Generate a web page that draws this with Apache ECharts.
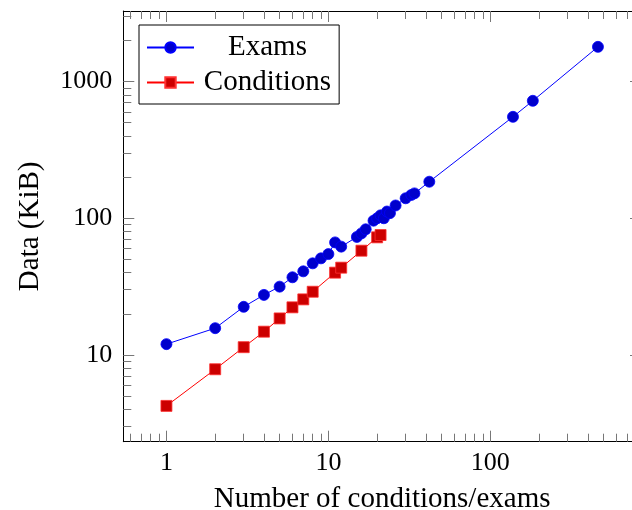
<!DOCTYPE html>
<html>
<head>
<meta charset="utf-8">
<script src="https://cdn.jsdelivr.net/npm/echarts@6/dist/echarts.min.js"></script>
<style>
  html, body { margin: 0; padding: 0; background: #fff; }
  #chart { width: 632px; height: 510px; }
</style>
</head>
<body>
<div id="chart"></div>
<script>
// Exams: 数据量随考试数量变化
var examsX = [1, 2, 3, 4, 5, 6, 7, 8, 9, 10, 11, 12, 15, 16, 17, 19, 20, 21, 22, 23, 24, 26, 30, 32.5, 34, 42, 138, 183, 462];
var examsY = [12, 15.7, 22.5, 27.5, 31.6, 37, 40.9, 46.8, 50.9, 54.7, 66.6, 62, 73, 77.5, 83, 96, 100, 105, 100, 112, 109, 124, 140, 148, 152, 185, 552, 723, 1794];

// Conditions
var condX = [1, 2, 3, 4, 5, 6, 7, 8, 11, 12, 16, 20, 21];
var condY = [4.24, 7.86, 11.4, 14.8, 18.5, 22.3, 25.5, 29, 40, 43.5, 57.9, 72.5, 75.4];

// tick values
var xMajor = [1, 10, 100];
var xMinor = [0.6, 0.7, 0.8, 0.9, 2, 3, 4, 5, 6, 7, 8, 9, 20, 30, 40, 50, 60, 70, 80, 90, 200, 300, 400, 500, 600, 700, 800];
var yMajor = [10, 100, 1000];
var yMinor = [3, 4, 5, 6, 7, 8, 9, 20, 30, 40, 50, 60, 70, 80, 90, 200, 300, 400, 500, 600, 700, 800, 900, 2000, 3000];

var X_MIN = 0.5415, X_MAX = 852;
var Y_MIN = 2.32, Y_MAX = 3281;

var font = 'Liberation Serif';
var tickColor = '#777';

function pairs(xs, ys) {
    var out = [];
    for (var i = 0; i < xs.length; i++) out.push([xs[i], ys[i]]);
    return out;
}

// 生成一根轴（主刻度或次刻度）
function makeAxis(kind, pos, ticks, len, showLine, labels) {
    var ax = {
        type: 'log',
        logBase: 10,
        position: pos,
        min: kind === 'x' ? X_MIN : Y_MIN,
        max: kind === 'x' ? X_MAX : Y_MAX,
        splitLine: { show: false },
        axisLine: { show: showLine, onZero: false, lineStyle: { color: '#000', width: 1 } },
        axisTick: { show: true, inside: true, length: len, customValues: ticks, lineStyle: { color: tickColor, width: 1 } },
        axisLabel: { show: false }
    };
    if (labels) {
        ax.axisLabel = {
            show: true,
            customValues: labels,
            margin: kind === 'x' ? 8 : 11,
            color: '#000',
            fontFamily: font,
            fontSize: 26,
            formatter: function (v) { return String(Math.round(v)); }
        };
    }
    return ax;
}

var chart = echarts.init(document.getElementById('chart'));

var xMain = makeAxis('x', 'bottom', xMajor, 11, true, xMajor);
xMain.name = 'Number of conditions/exams';
xMain.nameLocation = 'middle';
xMain.nameGap = 43;
xMain.nameTextStyle = { color: '#000', fontFamily: font, fontSize: 29 };

var yMain = makeAxis('y', 'left', yMajor, 11, true, yMajor);
yMain.name = 'Data (KiB)';
yMain.nameLocation = 'middle';
yMain.nameGap = 78;
yMain.nameTextStyle = { color: '#000', fontFamily: font, fontSize: 29 };

var option = {
    animation: false,
    grid: { left: 123.3, top: 11, right: -9, bottom: 68.3, containLabel: false, outerBoundsMode: 'none' },
    legend: {
        orient: 'vertical',
        left: 139,
        top: 25,
        padding: [8, 8, 7, 7],
        itemGap: 6,
        itemWidth: 47,
        itemHeight: 13,
        borderColor: '#000',
        borderWidth: 1,
        backgroundColor: '#fff',
        formatter: '{c|{name}}',
        textStyle: {
            rich: {
                c: { width: 137, align: 'center', fontFamily: font, fontSize: 29, color: '#000' }
            }
        },
        data: ['Exams', 'Conditions']
    },
    xAxis: [
        xMain,
        makeAxis('x', 'bottom', xMinor, 8, false),
        makeAxis('x', 'top', xMajor, 11, true),
        makeAxis('x', 'top', xMinor, 8, false)
    ],
    yAxis: [
        yMain,
        makeAxis('y', 'left', yMinor, 8, false),
        makeAxis('y', 'right', yMajor, 11, true),
        makeAxis('y', 'right', yMinor, 8, false)
    ],
    series: [
        {
            name: 'Exams',
            type: 'line',
            xAxisIndex: 0,
            yAxisIndex: 0,
            symbol: 'circle',
            symbolSize: 11,
            itemStyle: { color: '#0000CC', borderColor: '#0000FF', borderWidth: 0.8 },
            lineStyle: { color: '#0000FF', width: 1 },
            data: pairs(examsX, examsY)
        },
        {
            name: 'Conditions',
            type: 'line',
            xAxisIndex: 0,
            yAxisIndex: 0,
            symbol: 'rect',
            symbolSize: 11,
            itemStyle: { color: '#CC0000', borderColor: '#FF3030', borderWidth: 0.8 },
            lineStyle: { color: '#FF0000', width: 1 },
            data: pairs(condX, condY)
        }
    ]
};
chart.setOption(option);
</script>
</body>
</html>
